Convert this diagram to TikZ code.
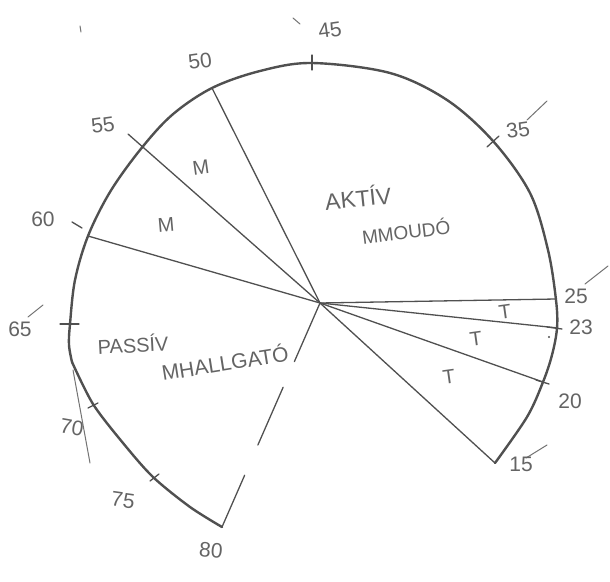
\documentclass[tikz,border=0pt]{standalone}
\usepackage{fontspec}
\setmainfont{Liberation Sans}
\begin{document}
\begin{tikzpicture}[x=1pt,y=-1pt]
\definecolor{pencil}{RGB}{80,80,80}
\definecolor{penciltext}{RGB}{100,100,100}
\tikzset{
  outline/.style={draw=pencil, line width=2.4pt, line cap=round, line join=round},
  ray/.style={draw=pencil, line width=1.3pt, line cap=round},
  thin/.style={draw=pencil!80, line width=1pt, line cap=round},
  tickmark/.style={draw=pencil, line width=1.3pt, line cap=round},
  lbl/.style={text=penciltext, font=\fontsize{21}{21}\selectfont, inner sep=0pt},
  seg/.style={text=penciltext, font=\fontsize{20}{20}\selectfont, inner sep=0pt},
  word/.style={text=penciltext, inner sep=0pt}
}
\useasboundingbox (0,0) rectangle (610,581);
\fill[white] (0,0) rectangle (610,581);

% key points
\coordinate (O) at (320,303);
\coordinate (p15) at (495,463);
\coordinate (p20) at (543,382);
\coordinate (p23) at (558,328);
\coordinate (p25) at (556,299);
\coordinate (p35) at (493,141);
\coordinate (p45) at (312,63);
\coordinate (p50) at (212,88);
\coordinate (p55) at (140,150);
\coordinate (e55) at (128,134);
\coordinate (p60) at (88,236);
\coordinate (p65) at (70,324);
\coordinate (kink) at (72,362);
\coordinate (p70) at (93,404);
\coordinate (p75) at (153,477);
\coordinate (p80) at (222,527);

% outline
\draw[outline] plot[smooth, tension=0.55] coordinates {
  (p15) (527,417) (p20) (552,355) (557,328) (556,300) (548,250) (530,193)
  (p35) (447,100) (390,73) (p45) (260,71) (p50) (172,115) (p55) (110,192)
  (p60) (75,280) (p65) (69,345) (kink)};
\draw[outline] plot[smooth, tension=0.5] coordinates {
  (kink) (p70) (123,443) (p75) (190,507) (p80)};

% radial lines
\draw[ray] (O) -- (p50);
\draw[ray] (O) -- (e55);
\draw[ray] (O) -- (p60);
\draw[ray] (O) -- (p25);
\draw[ray] (O) -- (p23);
\draw[ray] (O) -- (p20);
\draw[ray] (O) -- (p15);
\draw[ray, dash pattern=on 64pt off 28pt on 63pt off 33pt on 80pt] (O) -- (p80);

% tick marks
\coordinate (t45a) at (312,55);  \coordinate (t45b) at (312,70);
\coordinate (t35a) at (487,147); \coordinate (t35b) at (499,136);
\coordinate (t23a) at (547,327); \coordinate (t23b) at (562,329);
\coordinate (t20a) at (536,380); \coordinate (t20b) at (549,384);
\coordinate (t60a) at (72,222);  \coordinate (t60b) at (82,228);
\coordinate (t65a) at (60,324);  \coordinate (t65b) at (79,324);
\coordinate (t70a) at (88,408);  \coordinate (t70b) at (98,403);
\coordinate (t75a) at (150,481); \coordinate (t75b) at (159,474);
\draw[tickmark] (t45a) -- (t45b);
\draw[tickmark] (t35a) -- (t35b);
\draw[tickmark] (t23a) -- (t23b);
\draw[tickmark] (t20a) -- (t20b);
\draw[tickmark] (t60a) -- (t60b);
\draw[tickmark] (t65a) -- (t65b);
\draw[tickmark] (t70a) -- (t70b);
\draw[tickmark] (t75a) -- (t75b);

% thin line near 70
\coordinate (th1) at (73,370); \coordinate (th2) at (90,463);
\draw[thin] (th1) -- (th2);

% label slashes
\coordinate (s15a) at (526,458); \coordinate (s15b) at (547,445);
\coordinate (s25a) at (585,284); \coordinate (s25b) at (608,266);
\coordinate (s35a) at (527,120); \coordinate (s35b) at (547,101);
\coordinate (s65a) at (28,317);  \coordinate (s65b) at (43,305);
\draw[thin] (s15a) -- (s15b);
\draw[thin] (s25a) -- (s25b);
\draw[thin] (s35a) -- (s35b);
\draw[thin] (s65a) -- (s65b);

% stray marks
\coordinate (m1a) at (293,18); \coordinate (m1b) at (300,24);
\coordinate (m2a) at (80,26);  \coordinate (m2b) at (81,32);
\coordinate (d23) at (549,337);
\draw[thin] (m1a) -- (m1b);
\draw[thin] (m2a) -- (m2b);
\fill[pencil] (d23) circle (1.2pt);

% number labels
\node[lbl] (l15) at (521,464) {15};
\node[lbl] (l20) at (570,401) {20};
\node[lbl] (l23) at (581,327) {23};
\node[lbl] (l25) at (576,296) {25};
\node[lbl, rotate=8] (l35) at (518,130) {35};
\node[lbl, rotate=8] (l45) at (330,30) {45};
\node[lbl, rotate=8] (l50) at (200,61) {50};
\node[lbl, rotate=8] (l55) at (103,125) {55};
\node[lbl] (l60) at (43,219) {60};
\node[lbl] (l65) at (20,329) {65};
\node[lbl, rotate=-10] (l70) at (72,427) {70};
\node[lbl, rotate=-8] (l75) at (123,500) {75};
\node[lbl, rotate=-5] (l80) at (211,550) {80};

% sector labels
\node[seg, rotate=8] (sm1) at (201,168) {M};
\node[seg, rotate=5] (sm2) at (166,225) {M};
\node[seg, rotate=8] (st1) at (505,312) {T};
\node[seg, rotate=8] (st2) at (476,339) {T};
\node[seg, rotate=8] (st3) at (449,377) {T};

% words
\node[word, font=\fontsize{23}{23}\selectfont, rotate=6] (akt) at (358,197) {AKTÍV};
\node[word, font=\fontsize{19}{19}\selectfont, rotate=7] (mon) at (406,231) {MMOUDÓ};
\node[word, font=\fontsize{20}{20}\selectfont, rotate=3] (pas) at (133,344) {PASSÍV};
\node[word, font=\fontsize{21}{21}\selectfont, rotate=9] (hal) at (225,362) {MHALLGATÓ};
\end{tikzpicture}
\end{document}
